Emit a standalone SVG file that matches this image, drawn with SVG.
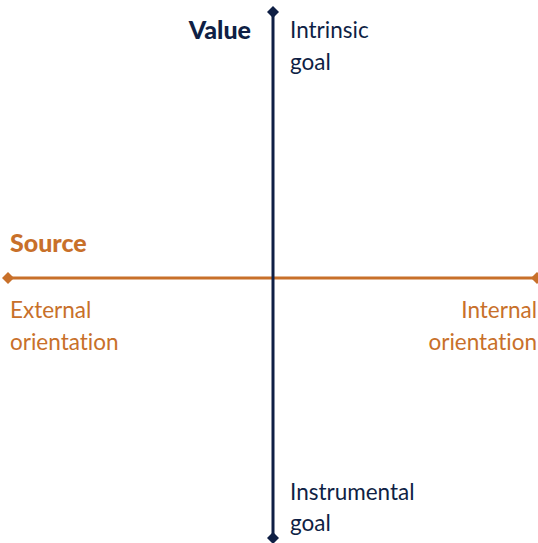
<svg xmlns="http://www.w3.org/2000/svg" width="538" height="543" viewBox="0 0 538 543">
  <style>
    text { font-family: Lato, "Open Sans", "Noto Sans", sans-serif; font-size: 22.5px; font-variant-ligatures: none; }
    .navy { fill: #0f1f45; }
    .orange { fill: #c8702a; }
    .title { font-weight: 900; font-size: 25px; }
  </style>
  <defs>
    <marker id="dNavy" viewBox="-6 -6 12 12" markerWidth="12" markerHeight="12" markerUnits="userSpaceOnUse" refX="0" refY="0" orient="auto">
      <path d="M-6 0 L0 -6 L6 0 L0 6 Z" fill="#0f1f45"/>
    </marker>
    <marker id="dOrange" viewBox="-6 -6 12 12" markerWidth="12" markerHeight="12" markerUnits="userSpaceOnUse" refX="0" refY="0" orient="auto">
      <path d="M-6 0 L0 -6 L6 0 L0 6 Z" fill="#c8702a"/>
    </marker>
  </defs>
  <g id="connectors">
    <line id="source-axis" x1="8" y1="278" x2="537" y2="278" stroke="#c8702a" stroke-width="3" marker-start="url(#dOrange)" marker-end="url(#dOrange)"/>
    <line id="value-axis" x1="273" y1="12" x2="273" y2="538" stroke="#0f1f45" stroke-width="3" marker-start="url(#dNavy)" marker-end="url(#dNavy)"/>
  </g>
  <g id="value-label"><text class="navy title" x="251" y="39" text-anchor="end">Value</text></g>
  <g id="intrinsic"><text class="navy" x="290" y="38">Intrinsic</text><text class="navy" x="290" y="70">goal</text></g>
  <g id="source-label"><text class="orange title" x="10" y="252">Source</text></g>
  <g id="external"><text class="orange" x="10" y="318">External</text><text class="orange" x="10" y="350">orientation</text></g>
  <g id="internal"><text class="orange" x="537" y="318" text-anchor="end">Internal</text><text class="orange" x="537" y="350" text-anchor="end">orientation</text></g>
  <g id="instrumental"><text class="navy" x="290" y="500">Instrumental</text><text class="navy" x="290" y="531">goal</text></g>
</svg>
